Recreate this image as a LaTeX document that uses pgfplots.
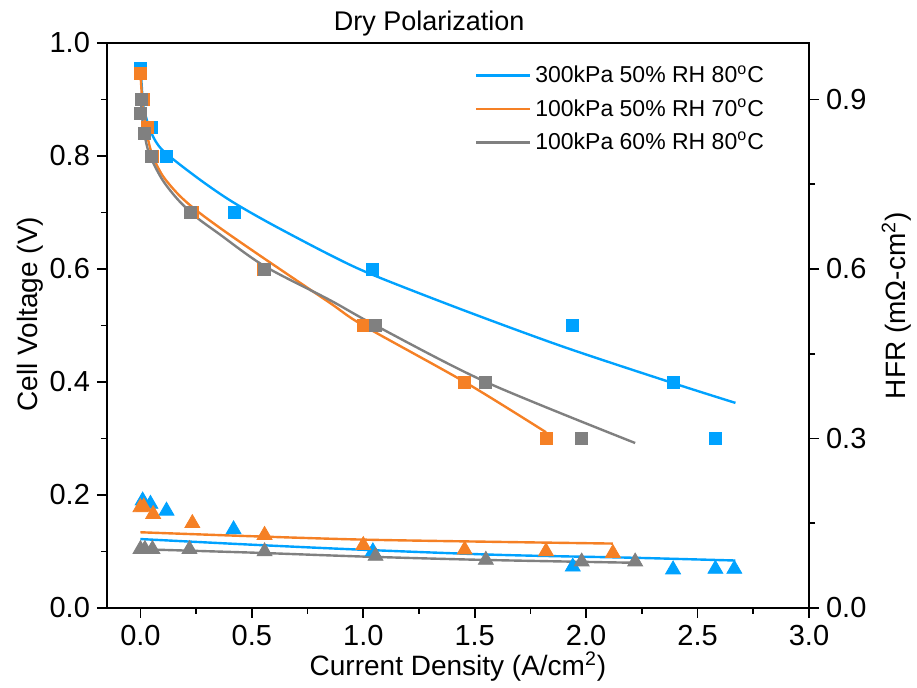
\documentclass[border=0pt]{standalone}
\usepackage{fontspec}
\setmainfont{Liberation Sans}
\usepackage{pgfplots}
\pgfplotsset{compat=1.18}
\definecolor{cBlue}{RGB}{0,162,255}
\definecolor{cOrange}{RGB}{245,128,37}
\definecolor{cGray}{RGB}{128,128,128}

\pgfplotsset{
  polbase/.style={
    scale only axis, width=351pt, height=282.5pt,
    xmin=-0.15, xmax=3.0, ymin=0, ymax=1.0,
    tick align=outside,
    major tick length=5pt, minor tick length=3pt,
    every tick/.style={black, line width=0.8pt},
    axis line style={line width=1pt},
    tick label style={font=\fontsize{14.5}{16}\selectfont},
    label style={font=\fontsize{14}{16}\selectfont},
    /pgf/number format/assume math mode=true,
    /pgf/number format/fixed, /pgf/number format/fixed zerofill,
    /pgf/number format/precision=1,
  },
  mk/.style={only marks, mark=#1, mark options={solid}},
}

\begin{document}
\begin{tikzpicture}
% voltage (left axis)
\begin{axis}[polbase, name=main,
  xtick={0,0.5,1,1.5,2,2.5,3}, minor x tick num=1, xtick pos=bottom,
  ytick={0,0.2,0.4,0.6,0.8,1.0}, minor y tick num=1, ytick pos=left,
  xlabel={Current Density (A/cm\textsuperscript{2})},
  xlabel style={at={(axis description cs:0.5,-0.104)}, anchor=center},
  ylabel={Cell Voltage (V)},
  ylabel style={at={(axis description cs:-0.11,0.52)}, anchor=center},
  title={Dry Polarization},
  title style={at={(0.459,1)}, anchor=south, yshift=-6pt, font=\fontsize{13.5}{15}\selectfont},
  legend style={draw=none, fill=none, at={(0.515,0.975)}, anchor=north west,
    font=\fontsize{11.5}{13}\selectfont, row sep=2.5pt},
  legend cell align=left,
  legend image code/.code={\draw[#1] (0pt,0pt) -- (27pt,0pt);},
]
% fitted curves
\addplot[cBlue, line width=1.2pt, smooth] coordinates {
 (0.002,0.950) (0.01,0.900) (0.02,0.876) (0.05,0.840) (0.1,0.810) (0.25,0.763)
 (0.4,0.722) (0.58,0.681) (0.85,0.625) (1.04,0.590) (1.45,0.527) (1.9,0.462)
 (2.39,0.398) (2.67,0.363)};
\addplot[cOrange, line width=1.2pt, smooth] coordinates {
 (0.002,0.935) (0.01,0.888) (0.02,0.860) (0.035,0.828) (0.055,0.800) (0.1,0.765)
 (0.17,0.732) (0.25,0.704) (0.37,0.669) (0.55,0.620) (0.85,0.540) (1.0,0.500)
 (1.455,0.400) (1.82,0.311)};
\addplot[cGray, line width=1.2pt, smooth] coordinates {
 (0.003,0.895) (0.01,0.860) (0.025,0.825) (0.045,0.798) (0.1,0.757) (0.17,0.722)
 (0.25,0.692) (0.35,0.663) (0.557,0.605) (0.85,0.545) (1.055,0.500) (1.55,0.400)
 (2.22,0.292)};
\legend{300kPa 50\% RH 80\textsuperscript{o}C, 100kPa 50\% RH 70\textsuperscript{o}C, 100kPa 60\% RH 80\textsuperscript{o}C}
% measured points
\addplot[mk=square*, cBlue, mark size=3pt, forget plot] coordinates {
 (0,0.955) (0.015,0.9) (0.05,0.85) (0.118,0.8) (0.42,0.7) (1.04,0.6) (1.94,0.5) (2.39,0.4) (2.58,0.3)};
\addplot[mk=square*, cOrange, mark size=3pt, forget plot] coordinates {
 (0,0.947) (0.015,0.9) (0.03,0.85) (0.055,0.8) (0.235,0.7) (0.55,0.6) (1.0,0.5) (1.455,0.4) (1.82,0.3)};
\addplot[mk=square*, cGray, mark size=3pt, forget plot] coordinates {
 (0.005,0.9) (0,0.875) (0.018,0.84) (0.05,0.8) (0.224,0.7) (0.557,0.6) (1.055,0.5) (1.55,0.4) (1.98,0.3)};
\end{axis}

% HFR (right axis)
\begin{axis}[polbase,
  axis y line*=right, axis x line=none,
  ytick={0,0.3,0.6,0.9}, minor y tick num=1,
  ylabel={HFR (mΩ-cm\textsuperscript{2})},
  ylabel style={at={(axis description cs:1.125,0.535)}, anchor=center},
]
\addplot[cBlue, line width=1.2pt, smooth] coordinates {
 (0,0.122) (0.5,0.112) (1.0,0.103) (1.61,0.094) (2.2,0.089) (2.67,0.084)};
\addplot[cOrange, line width=1.2pt, smooth] coordinates {
 (0,0.134) (0.5,0.127) (1.0,0.121) (1.6,0.117) (2.12,0.114)};
\addplot[cGray, line width=1.2pt, smooth] coordinates {
 (0,0.104) (0.5,0.098) (1.0,0.091) (1.55,0.085) (2.22,0.080)};
\addplot[mk=triangle*, cBlue, mark size=4.3pt] coordinates {
 (0.01,0.19) (0.045,0.184) (0.117,0.172) (0.418,0.139) (1.043,0.1) (1.94,0.073) (2.39,0.068) (2.58,0.069) (2.665,0.069)};
\addplot[mk=triangle*, cOrange, mark size=4.3pt] coordinates {
 (0,0.178) (0.015,0.179) (0.057,0.166) (0.233,0.15) (0.557,0.129) (1.0,0.111) (1.455,0.103) (1.82,0.1) (2.12,0.097)};
\addplot[mk=triangle*, cGray, mark size=4.3pt] coordinates {
 (0,0.104) (0.02,0.104) (0.054,0.104) (0.22,0.104) (0.557,0.1) (1.055,0.092) (1.55,0.085) (1.98,0.082) (2.22,0.082)};
\end{axis}

\pgfresetboundingbox
\path[use as bounding box] ([shift={(-53.5pt,-40pt)}]main.south west) rectangle ([shift={(54pt,21.5pt)}]main.north east);
\end{tikzpicture}
\end{document}
